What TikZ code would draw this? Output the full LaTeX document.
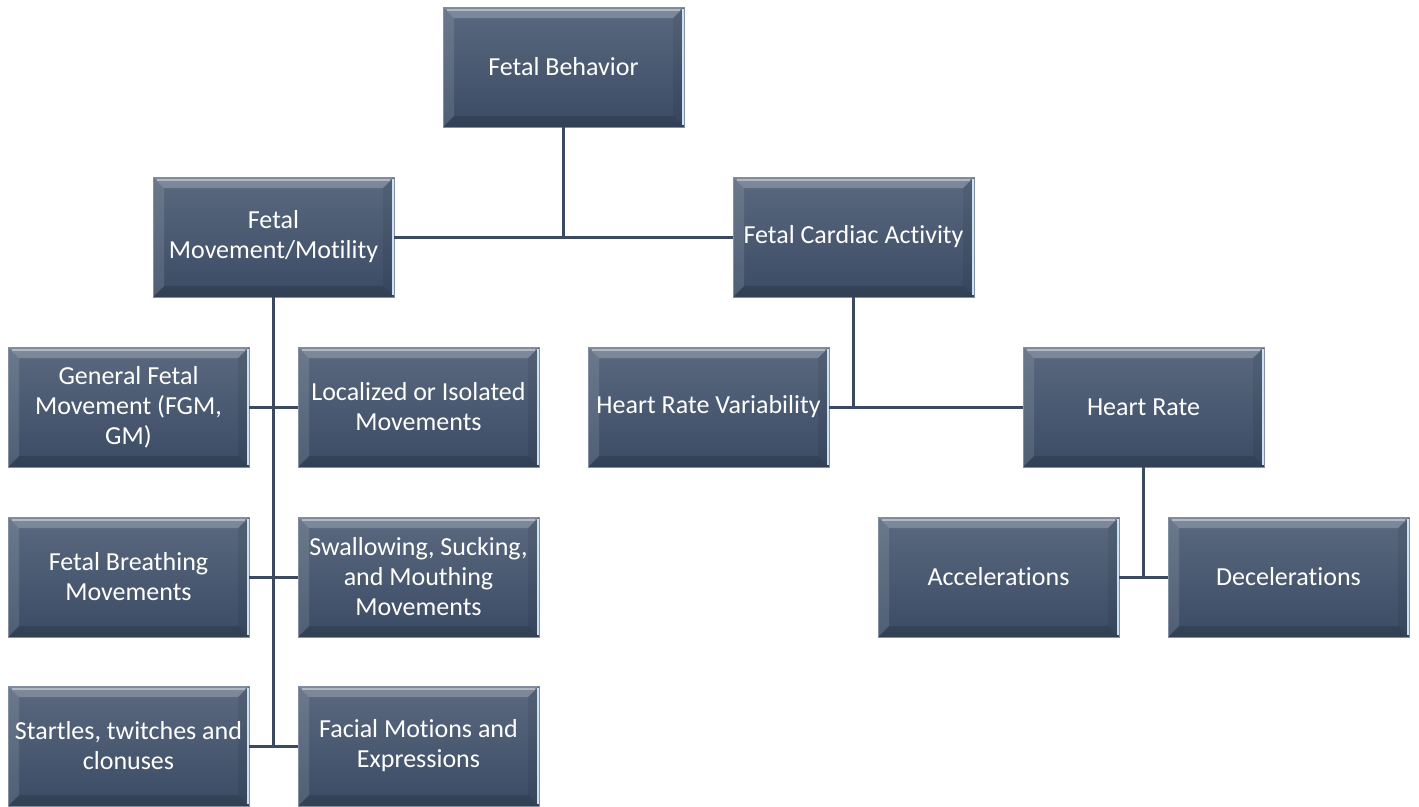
\documentclass[tikz,border=0pt]{standalone}
\usepackage{fontspec}
\setmainfont{Carlito}[Ligatures=NoCommon]
\usetikzlibrary{calc}
\definecolor{boxtop}{RGB}{90,105,127}
\definecolor{boxbot}{RGB}{59,75,100}
\definecolor{boxedge}{RGB}{130,143,162}
\definecolor{edgehi}{RGB}{205,225,245}
\definecolor{connc}{RGB}{59,74,96}
\newcommand{\bevelpp}{%
  \path (path picture bounding box.north west) coordinate (bNW)
        (path picture bounding box.north east) coordinate (bNE)
        (path picture bounding box.south west) coordinate (bSW)
        (path picture bounding box.south east) coordinate (bSE);
  \fill[white,opacity=0.22] (bNW) -- (bNE) -- ($(bNE)+(-11pt,-11pt)$) -- ($(bNW)+(11pt,-11pt)$) -- cycle;
  \fill[white,opacity=0.11] (bNW) -- ($(bNW)+(11pt,-11pt)$) -- ($(bSW)+(11pt,11pt)$) -- (bSW) -- cycle;
  \fill[black,opacity=0.14] (bSW) -- ($(bSW)+(11pt,11pt)$) -- ($(bSE)+(-11pt,11pt)$) -- (bSE) -- cycle;
  \fill[black,opacity=0.07] (bNE) -- (bSE) -- ($(bSE)+(-11pt,11pt)$) -- ($(bNE)+(-11pt,-11pt)$) -- cycle;
  \draw[white,opacity=0.4,line width=1.2pt] ($(bNW)+(4pt,-3pt)$) -- ($(bNE)+(-4pt,-3pt)$);
  \draw[edgehi,line width=1.5pt] ($(bNE)+(-1pt,-2pt)$) -- ($(bSE)+(-1pt,2pt)$);
}
\tikzset{
  box/.style={rectangle, minimum width=241pt, minimum height=120pt, inner sep=0pt,
    align=center, text=white, font=\fontsize{26}{30}\selectfont,
    top color=boxtop, bottom color=boxbot, draw=boxedge, line width=0.6pt,
    path picture={\bevelpp}},
  conn/.style={draw=connc, line width=3pt}
}
\begin{document}
\begin{tikzpicture}[x=1pt,y=-1pt]
\useasboundingbox (0,0) rectangle (1419,806);
% nodes
\node[box] (fb)  at (563.5,67)  {Fetal Behavior};
\node[box] (fm)  at (273.5,237) {Fetal\\Movement/Motility};
\node[box] (fc)  at (853.5,237) {Fetal Cardiac Activity};
\node[box] (gf)  at (128.5,407) {General Fetal\\Movement (FGM,\\GM)};
\node[box] (lo)  at (418.5,407) {Localized or Isolated\\Movements};
\node[box] (hrv) at (708.5,407) {Heart Rate Variability};
\node[box] (hr)  at (1143.5,407) {Heart Rate};
\node[box] (br)  at (128.5,577) {Fetal Breathing\\Movements};
\node[box] (sw)  at (418.5,577) {Swallowing, Sucking,\\and Mouthing\\Movements};
\node[box] (acc) at (998.5,577) {Accelerations};
\node[box] (dec) at (1288.5,577) {Decelerations};
\node[box] (st)  at (128.5,746) {Startles, twitches and\\clonuses};
\node[box] (fa)  at (418.5,746) {Facial Motions and\\Expressions};
% connectors
\draw[conn] (fb.south) -- (fb.south |- fm.east);
\draw[conn] (fm.east) -- (fc.west);
\draw[conn] (fm.south) -- (fm.south |- st.east);
\draw[conn] (gf.east) -- (lo.west);
\draw[conn] (br.east) -- (sw.west);
\draw[conn] (st.east) -- (fa.west);
\draw[conn] (fc.south) -- (fc.south |- hrv.east);
\draw[conn] (hrv.east) -- (hr.west);
\draw[conn] (hr.south) -- (hr.south |- acc.east);
\draw[conn] (acc.east) -- (dec.west);
\end{tikzpicture}
\end{document}
